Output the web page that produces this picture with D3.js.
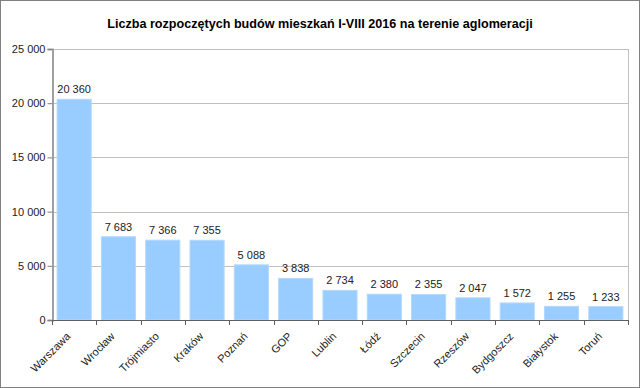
<!DOCTYPE html>
<html>
<head>
<meta charset="utf-8">
<script src="https://cdn.jsdelivr.net/npm/d3@7"></script>
<style>
  body { margin: 0; background: #fff; }
  svg { font-family: "Liberation Sans", Arial, sans-serif; }
</style>
</head>
<body>
<script>
// dane
let cities = ["Warszawa", "Wrocław", "Trójmiasto", "Kraków", "Poznań", "GOP", "Lublin",
              "Łódź", "Szczecin", "Rzeszów", "Bydgoszcz", "Białystok", "Toruń"];
let values = [20360, 7683, 7366, 7355, 5088, 3838, 2734, 2380, 2355, 2047, 1572, 1255, 1233];
let yTicks = [0, 5000, 10000, 15000, 20000, 25000];
let title = "Liczba rozpoczętych budów mieszkań I-VIII 2016 na terenie aglomeracji";

let width = 640;
let height = 388;
let padding = { left: 52, right: 12, top: 49, bottom: 68 };

let fmt = function (d) {
    return d3.format(",")(d).replace(/,/g, " ");
};

let svg = d3.select("body")
    .append("svg")
    .attr("width", width)
    .attr("height", height);

// ramka
svg.append("rect")
    .attr("x", 0.5).attr("y", 0.5)
    .attr("width", width - 1).attr("height", height - 1)
    .attr("fill", "#fff")
    .attr("stroke", "#808080");

svg.append("text")
    .attr("x", 320)
    .attr("y", 28)
    .attr("text-anchor", "middle")
    .attr("font-size", "12.6px")
    .attr("font-weight", "bold")
    .text(title);

let xScale = d3.scaleBand()
    .domain(cities)
    .range([padding.left, width - padding.right])
    .paddingInner(0.23)
    .paddingOuter(0.115);

let yScale = d3.scaleLinear()
    .domain([0, 25000])
    .range([height - padding.bottom, padding.top]);

// siatka
svg.append("g")
    .selectAll("line")
    .data(yTicks.slice(1))
    .enter()
    .append("line")
    .attr("x1", padding.left)
    .attr("x2", width - padding.right)
    .attr("y1", function (d) { return Math.round(yScale(d)) + 0.5; })
    .attr("y2", function (d) { return Math.round(yScale(d)) + 0.5; })
    .attr("stroke", "#c0c0c0");

// prawa krawedz obszaru
svg.append("line")
    .attr("x1", width - padding.right + 0.5)
    .attr("x2", width - padding.right + 0.5)
    .attr("y1", padding.top)
    .attr("y2", height - padding.bottom)
    .attr("stroke", "#c0c0c0");

svg.selectAll(".bar")
    .data(values)
    .enter()
    .append("rect")
    .attr("class", "bar")
    .attr("x", function (d, i) { return xScale(cities[i]); })
    .attr("y", function (d) { return yScale(d); })
    .attr("width", xScale.bandwidth())
    .attr("height", function (d) { return yScale(0) - yScale(d); })
    .attr("fill", "#99ccff")
    .attr("stroke", "#b3d9ff")
    .attr("stroke-width", 1);

svg.selectAll(".val")
    .data(values)
    .enter()
    .append("text")
    .attr("class", "val")
    .attr("x", function (d, i) { return xScale(cities[i]) + xScale.bandwidth() / 2; })
    .attr("y", function (d) { return yScale(d) - 6; })
    .attr("text-anchor", "middle")
    .attr("font-size", "11px")
    .attr("fill", "#222")
    .text(fmt);

// os Y
let yAxis = d3.axisLeft(yScale)
    .tickValues(yTicks)
    .tickSize(5)
    .tickFormat(fmt);

let gy = svg.append("g")
    .attr("transform", "translate(" + (padding.left + 0.5) + ",0)")
    .call(yAxis);
gy.select(".domain").attr("stroke", "#a0a0a0").attr("stroke-width", 2);
gy.selectAll(".tick line").attr("stroke", "#808080");
gy.selectAll(".tick text")
    .attr("font-size", "11px")
    .attr("font-family", "Liberation Sans, Arial, sans-serif")
    .attr("fill", "#222")
    .attr("x", -7);

// os X
let step = xScale.step();
let boundaries = d3.range(cities.length + 1).map(function (i) {
    return padding.left + i * step;
});

svg.append("line")
    .attr("x1", padding.left)
    .attr("x2", width - padding.right)
    .attr("y1", yScale(0) + 0.5)
    .attr("y2", yScale(0) + 0.5)
    .attr("stroke", "#606060");

svg.append("g")
    .selectAll("line")
    .data(boundaries)
    .enter()
    .append("line")
    .attr("x1", function (d) { return Math.round(d) + 0.5; })
    .attr("x2", function (d) { return Math.round(d) + 0.5; })
    .attr("y1", yScale(0))
    .attr("y2", yScale(0) + 5)
    .attr("stroke", "#606060");

svg.selectAll(".xlab")
    .data(cities)
    .enter()
    .append("text")
    .attr("class", "xlab")
    .attr("text-anchor", "end")
    .attr("font-size", "11px")
    .attr("fill", "#222")
    .attr("transform", function (d) {
        let cx = xScale(d) + xScale.bandwidth() / 2;
        return "translate(" + (cx - 3) + "," + (yScale(0) + 17) + ") rotate(-45)";
    })
    .text(function (d) { return d; });
</script>
</body>
</html>
